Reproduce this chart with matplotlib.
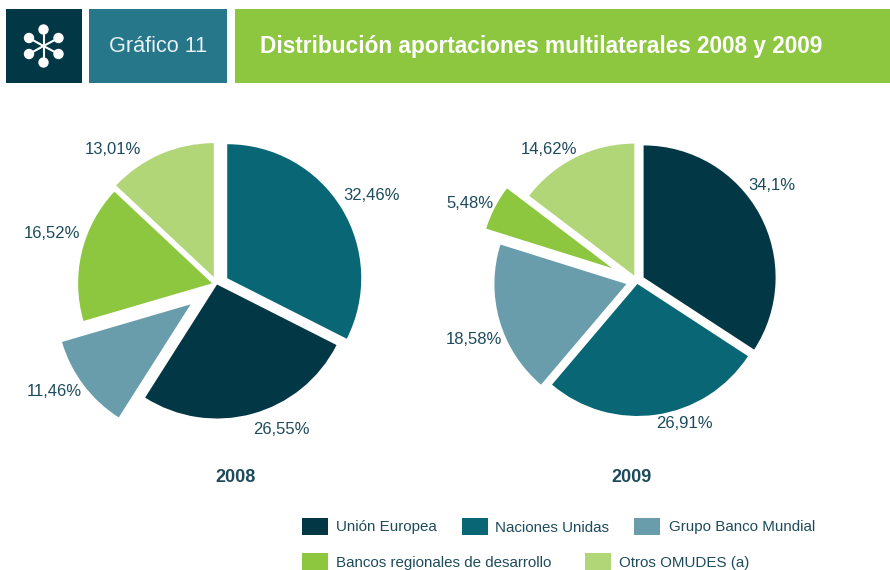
import matplotlib
matplotlib.use("Agg")
import matplotlib.pyplot as plt
from matplotlib.patches import Rectangle, Circle

plt.rcParams['font.family'] = ['Liberation Sans', 'DejaVu Sans']

categories = ["Unión Europea", "Naciones Unidas", "Grupo Banco Mundial",
              "Bancos regionales de desarrollo", "Otros OMUDES (a)"]
colors = ["#023745", "#086675", "#699DAC", "#8DC63F", "#B1D678"]

# slices clockwise from 12 o'clock
order_2008 = [1, 0, 2, 3, 4]
values_2008 = [32.46, 26.55, 11.46, 16.52, 13.01]
labels_2008 = ["32,46%", "26,55%", "11,46%", "16,52%", "13,01%"]

order_2009 = [0, 1, 2, 3, 4]
values_2009 = [34.1, 26.91, 18.58, 5.48, 14.62]
labels_2009 = ["34,1%", "26,91%", "18,58%", "5,48%", "14,62%"]

W, H = 890, 570
TEXT = "#1D4B5B"

fig = plt.figure(figsize=(W / 100, H / 100), dpi=100)
ax = fig.add_axes([0, 0, 1, 1])


def Y(py):
    return H - py


def draw_pie(values, order, explode, labels, cx, cy, r, label_pos, year, year_x):
    # explode is in data units here, so pixels since the axes is in pixels
    ax.pie(values, colors=[colors[i] for i in order], explode=explode, startangle=90,
           counterclock=False, center=(cx, Y(cy)), radius=r, frame=True,
           wedgeprops={"linewidth": 0})
    for lab, (lx, ly) in zip(labels, label_pos):
        ax.text(lx, Y(ly + 1), lab, fontsize=12, color=TEXT, ha="center", va="center")
    ax.text(year_x, Y(477.5), year, fontsize=13, fontweight="bold", color=TEXT, ha="center", va="center")


draw_pie(values_2008, order_2008, [12, 0, 33, 5, 8], labels_2008, 217, 284.5, 134,
         [(371.5, 195), (281.5, 429), (54, 390), (52, 233), (113, 149)], "2008", 235)
draw_pie(values_2009, order_2009, [7.5, 3, 11, 28, 6], labels_2009, 637, 281, 132,
         [(771.5, 185), (684.5, 423), (474, 339), (470, 203), (548.5, 148)], "2009", 631)

ax.set_xlim(0, W)
ax.set_ylim(0, H)
ax.set_aspect("equal")
ax.axis("off")

# header bands
ax.add_patch(Rectangle((6, Y(83)), 76, 74, color="#023745", lw=0))
ax.add_patch(Rectangle((89, Y(83)), 138, 74, color="#267789", lw=0))
ax.add_patch(Rectangle((235, Y(83)), 655, 74, color="#8DC63F", lw=0))
ax.text(158, Y(47), "Gráfico 11", fontsize=15.6, color="#E8F1F3", ha="center", va="center")
ax.text(260, Y(47), "Distribución aportaciones multilaterales 2008 y 2009", fontsize=16.25,
        fontweight="bold", color="white", ha="left", va="center")

# icon
for nx, ny in [(43.5, 29.5), (43.5, 62.5), (29, 38), (58.5, 38), (29, 54), (58.5, 54)]:
    ax.plot([43.5, nx], [Y(46), Y(ny)], color="white", lw=1.5, solid_capstyle="round")
    ax.add_patch(Circle((nx, Y(ny)), 5.2, color="white", lw=0))

# legend
legend_rows = [(0, 302, 336), (1, 462, 495), (2, 634, 669), (3, 302, 336), (4, 585, 619)]
legend_y = [526.5, 526.5, 526.5, 561.5, 561.5]
for (idx, bx, tx), ly in zip(legend_rows, legend_y):
    ax.add_patch(Rectangle((bx, Y(ly + 8.5)), 25.5, 17, color=colors[idx], lw=0))
    ax.text(tx, Y(ly + 5), categories[idx], fontsize=10.9, color=TEXT, ha="left", va="baseline")

fig.savefig("out.png", dpi=100)
